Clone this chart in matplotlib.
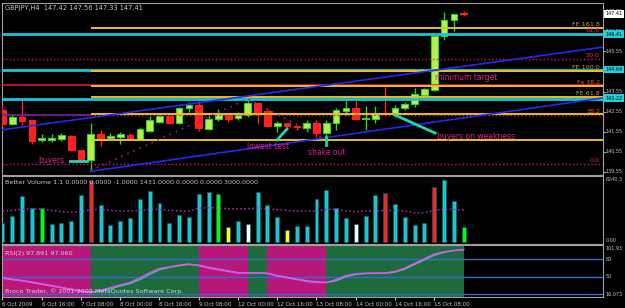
import matplotlib
matplotlib.use('Agg')
import matplotlib.pyplot as plt
import matplotlib.transforms as mtransforms
from matplotlib import font_manager

# ---- GBPJPY H4 candles ----
opens = [142.63, 141.93, 142.30, 142.13, 141.12, 141.14, 141.17, 141.34, 140.64, 140.14,
         141.42, 141.22, 141.27, 141.39, 141.17, 141.60, 142.05, 142.35, 141.97, 142.71,
         142.88, 141.67, 142.17, 142.38, 142.22, 142.38, 142.96, 142.60, 141.85, 141.97,
         141.85, 141.75, 142.00, 141.50, 141.97, 142.60, 142.74, 142.20, 142.17, 142.45,
         142.42, 142.71, 142.91, 143.38, 143.62, 146.31, 147.11, 147.42]
highs = [142.88, 142.43, 143.13, 142.15, 141.44, 141.44, 141.50, 141.39, 140.64, 141.97,
         141.63, 141.48, 141.53, 141.48, 141.80, 142.34, 142.40, 142.40, 142.79, 143.04,
         143.08, 142.38, 142.68, 142.42, 142.55, 143.18, 143.00, 142.68, 142.10, 142.00,
         141.87, 142.13, 142.13, 142.13, 142.74, 143.13, 143.13, 142.83, 142.83, 143.79,
         142.88, 143.04, 143.71, 143.74, 146.31, 147.49, 147.42, 147.56]
lows = [141.83, 141.88, 141.88, 140.94, 141.05, 141.05, 141.10, 140.60, 140.11, 139.60,
        140.85, 141.14, 140.94, 141.12, 141.14, 141.55, 142.00, 141.93, 141.93, 142.55,
        141.60, 141.63, 142.10, 142.05, 142.13, 142.27, 141.97, 141.80, 141.55, 141.80,
        141.63, 141.55, 141.30, 141.14, 141.63, 142.38, 142.13, 141.63, 142.00, 142.38,
        142.30, 142.63, 142.79, 143.36, 143.57, 146.11, 146.56, 147.33]
closes = [141.93, 142.27, 142.10, 141.10, 141.22, 141.22, 141.39, 140.64, 140.14, 141.44,
          141.14, 141.34, 141.44, 141.17, 141.67, 142.13, 142.33, 141.97, 142.71, 142.88,
          141.72, 142.17, 142.43, 142.17, 142.38, 142.96, 142.55, 141.85, 141.97, 141.85,
          141.77, 142.00, 141.50, 141.97, 142.63, 142.74, 142.17, 142.23, 142.42, 142.42,
          142.74, 142.91, 143.41, 143.66, 146.31, 147.11, 147.39, 147.41]

# ---- Better Volume ----
volumes = [1880, 2540, 4550, 3300, 3370, 1720, 1820, 2050, 4620, 6010,
           3630, 1650, 2050, 2380, 4220, 5050, 3800, 1880, 2640, 2440,
           4690, 4950, 4720, 1490, 2080, 1720, 4950, 3630, 2440, 1160,
           1580, 1550, 4220, 5120, 3300, 2310, 1720, 2570, 4620, 4850,
           3760, 2440, 1650, 1820, 5410, 6140, 4030, 1490]
vol_kind = ['c', 'c', 'c', 'c', 'g', 'c', 'c', 'c', 'c', 'r',
            'c', 'c', 'c', 'c', 'c', 'c', 'c', 'c', 'c', 'c',
            'c', 'c', 'g', 'y', 'c', 'w', 'c', 'c', 'c', 'y',
            'c', 'c', 'c', 'c', 'c', 'c', 'w', 'c', 'c', 'r',
            'c', 'c', 'c', 'c', 'r', 'c', 'c', 'g']
vol_avg = [3040, 3100, 3200, 3230, 3230, 3100, 2970, 2900, 2970, 3170,
           3200, 3100, 3040, 3040, 3100, 3200, 3200, 3100, 3040, 3040,
           3300, 3370, 3330, 3270, 3270, 3270, 3330, 3230, 3170, 3100,
           3040, 3040, 3040, 3200, 3200, 3040, 2970, 3040, 3040, 3100,
           3100, 3040, 2870, 2870, 3100, 3200, 3200, 3140]

# ---- RSI(2) ----
rsi_fast = [47.5, 45, 43, 40, 37, 34, 31, 28, 25, 22.4, 27, 31, 35.7, 40, 48, 57,
            64, 67, 70, 72, 69, 65, 62, 59, 56.5, 56.5, 57, 55.5, 51, 48, 45, 42,
            40, 40, 45, 52, 55, 56, 56, 56.5, 59, 65, 73, 81, 89, 93, 95, 97]
rsi_slow = [48, 45.5, 43.5, 40.5, 37.5, 34.5, 31.5, 28.5, 25.5, 23, 25, 29, 34, 38, 45, 54,
            62, 66, 69, 71, 70, 66, 63, 60, 57, 56.5, 56.5, 56, 52, 49, 46, 43,
            41, 40, 43, 50, 54, 55.5, 56, 56, 58, 63, 71, 79, 87, 92, 95, 96.5]
rsi_zone_edges = [0, 9, 20, 25, 27, 33, 47]
rsi_zone_kind = ['m', 'g', 'm', 'g', 'm', 'g']
rsi_levels = [80, 50, 20]

time_ticks = [0, 4, 8, 12, 16, 20, 24, 28, 32, 36, 40, 44]
time_labels = ['6 Oct 2009', '6 Oct 16:00', '7 Oct 08:00', '8 Oct 00:00', '8 Oct 16:00',
               '9 Oct 08:00', '12 Oct 00:00', '12 Oct 16:00', '13 Oct 08:00',
               '14 Oct 00:00', '14 Oct 16:00', '15 Oct 08:00']
price_ticks = [139.55, 140.55, 141.55, 142.55, 143.55, 144.55, 145.55, 146.55, 147.55]

# ---- drawn objects ----
retr_levels = [146.41, 145.17, 144.62, 143.89, 143.20, 142.36, 139.94]
retr_labels = ['61.8', '50.0', '', '', '', '38.2', '0.0']
fe_levels = [146.69, 144.57, 143.83, 143.28, 142.43, 141.14]
fe_labels = ['FE 161.8', 'FE 100.0', 'Fe 38.2', 'FE 61.8', '', '']
fe_start = 9
channel_upper = [(-0.25, 141.63), (61.2, 145.76)]
channel_lower = [(9, 139.58), (61.2, 143.23)]
fe_path = [(9, 139.62), (25, 143.18), (33, 141.14)]
arrows = [[(6.9, 140.11), (8.6, 140.11)],
          [(29.0, 141.69), (28.0, 141.14)],
          [(33.0, 141.30), (33.0, 140.90)],
          [(40.0, 142.38), (44.1, 141.48)]]
notes = [(3.6, 140.10, 'buyers'), (24.9, 140.79, 'lowest test'),
         (31.1, 140.54, 'shake out'), (44.3, 141.30, 'buyers on weakness'),
         (44.1, 144.24, 'minimum target')]
price_boxes = [(147.41, 'white'), (146.41, '#22d0dc'), (144.64, '#22d0dc'), (143.22, '#22d0dc')]

W, H = 625, 308
BG = 'black'
FRAME = '#a0a0a0'
TXT = '#c8c8c8'
CYAN = '#10c8d8'
YEL = '#e8c020'
NOTE = '#e0208a'

# narrow face for the cramped scales, if it is there
_names = {f.name for f in font_manager.fontManager.ttflist}
if 'Liberation Sans Narrow' in _names:
    SCALE_FONT = dict(family='Liberation Sans Narrow', size=4.6)
    TIME_FONT = dict(family='Liberation Sans Narrow', size=5.0)
else:
    SCALE_FONT = dict(family='DejaVu Sans', size=3.5)
    TIME_FONT = dict(family='DejaVu Sans', size=4.0)

fig = plt.figure(figsize=(W / 100, H / 100), dpi=100, facecolor=BG)


def px_axes(x0, y0, x1, y1):
    a = fig.add_axes([x0 / W, 1 - y1 / H, (x1 - x0) / W, (y1 - y0) / H])
    a.set_facecolor(BG)
    for s in a.spines.values():
        s.set_color(FRAME)
        s.set_linewidth(0.8)
    a.set_xlim(-0.05, 61.2)
    return a


def scale_text(a, v, s, **kw):
    tr = mtransforms.blended_transform_factory(a.transAxes, a.transData)
    opts = dict(fontsize=SCALE_FONT['size'], family=SCALE_FONT['family'], color=TXT,
                ha='left', va='center', transform=tr, clip_on=False)
    opts.update(kw)
    return a.text(1.004, v, s, **opts)


ax = px_axes(2, 3, 603, 175)
axv = px_axes(2, 176, 603, 244)
axr = px_axes(2, 245, 603, 297)
n = len(opens)
xs = list(range(n))

# ---- main panel ----
ax.set_ylim(139.396, 147.953)
for i in xs:
    o, h, l, c = opens[i], highs[i], lows[i], closes[i]
    up = c >= o
    wick = '#30d030' if up else '#ff2020'
    ax.vlines(i, l, h, color=wick, lw=1, zorder=3)
    ax.bar(i, max(abs(c - o), 0.03), 0.68, bottom=min(o, c),
           color='#b4f04c' if up else '#ff2020',
           edgecolor='#30d030' if up else '#ff2020', lw=0.8, zorder=4)

ylab = mtransforms.blended_transform_factory(ax.transAxes, ax.transData)
retr_style = [(CYAN, '-', 2.0), ('#e01040', ':', 1.0), (CYAN, '-', 2.0), ('#e0104a', '-', 1.2),
              (CYAN, '-', 2.0), ('#e02030', ':', 1.0), ('#d01880', ':', 1.0)]
retr_txt = ['#ff2060', '#ff2040', '', '', '', '#ff5020', '#e0208a']
for lev, lab, (col, ls, lw), tc in zip(retr_levels, retr_labels, retr_style, retr_txt):
    ax.axhline(lev, color=col, ls=ls, lw=lw, zorder=5)
    if lab:
        ax.text(0.995, lev + 0.05, lab, transform=ylab, ha='right', va='bottom',
                fontsize=4.6, color=tc, zorder=7)
ax.hlines(142.38, -0.05, fe_start, color='#7020a0', lw=1.2, zorder=5)
fe_txt = ['#c8a838', '#c8a838', '#e06030', '#c8a838', '', '']
for lev, lab, tc in zip(fe_levels, fe_labels, fe_txt):
    ax.hlines(lev, fe_start, 61.2, color=YEL, lw=1.4, zorder=5)
    if lab:
        ax.text(0.995, lev + 0.05, lab, transform=ylab, ha='right', va='bottom',
                fontsize=4.6, color=tc, zorder=7)

for line in (channel_upper, channel_lower):
    ax.plot([p[0] for p in line], [p[1] for p in line], color='#2828f0', lw=1.2, zorder=5)
ax.plot([p[0] for p in fe_path], [p[1] for p in fe_path], color='#b01880', ls=(0, (1, 3)),
        lw=1.2, zorder=5)
for seg in arrows:
    ax.plot([p[0] for p in seg], [p[1] for p in seg], color='#20d8b0', lw=2, zorder=6)
for x, y, t in notes:
    ax.text(x, y, t, fontsize=5.5, color=NOTE, ha='left', va='center', zorder=7)

ax.set_xticks([])
ax.yaxis.tick_right()
ax.set_yticks(price_ticks)
ax.set_yticklabels([])
ax.tick_params(axis='y', colors=FRAME, length=2)
for t in price_ticks:
    scale_text(ax, t, '%.2f' % t, zorder=6)
for v, fc in price_boxes:
    # the price boxes sit on top of the scale, as in the terminal
    scale_text(ax, v, '%.2f' % v, color='black', zorder=8,
               bbox=dict(boxstyle='square,pad=0.25', fc=fc, ec='none'))

# ---- volume panel ----
vol_colors = {'c': '#22c4cc', 'g': '#00ff00', 'r': '#ff2020', 'y': '#ffff00', 'w': '#ffffff'}
axv.set_ylim(-228, 6504)
axv.bar(xs, volumes, 0.4, color=[vol_colors[k] for k in vol_kind],
        edgecolor='#0a6070', lw=0.5, zorder=3)
axv.plot(xs, vol_avg, color='#b030c8', ls=':', lw=1.1, zorder=4)
axv.set_xticks([])
axv.set_yticks([])
scale_text(axv, 6150, '6240.3')
scale_text(axv, 150, '0.00')

# ---- RSI panel ----
axr.set_ylim(15, 104.7)
zone_colors = {'m': '#b8177a', 'g': '#1d6b3c'}
for k, (a, b) in enumerate(zip(rsi_zone_edges[:-1], rsi_zone_edges[1:])):
    a = -0.05 if k == 0 else a
    axr.axvspan(a, b, color=zone_colors[rsi_zone_kind[k]], lw=0, zorder=1)
for lev in rsi_levels:
    axr.axhline(lev, color='#3a66d0', lw=1, zorder=2)
axr.plot(xs, rsi_slow, color='#30c8a0', lw=1, zorder=3)
axr.plot(xs, rsi_fast, color='#ff40ff', lw=1, zorder=4)
axr.set_yticks([])
scale_text(axr, 99.5, '101.93')
scale_text(axr, 80, '80')
scale_text(axr, 50, '50')
scale_text(axr, 19, '16.073')
axr.set_xticks(time_ticks)
axr.set_xticklabels(time_labels)
axr.tick_params(axis='x', colors=TXT, length=2, pad=1.5)
for lbl in axr.get_xticklabels():
    lbl.set_ha('left')
    lbl.set_family(TIME_FONT['family'])
    lbl.set_fontsize(TIME_FONT['size'])

# ---- captions ----
fig.text(5 / W, 1 - 8 / H, 'GBPJPY,H4  147.42 147.56 147.33 147.41', fontsize=4.8,
         color=TXT, va='center')
fig.text(5 / W, 1 - 182 / H,
         'Better Volume 1.1 0.0000 0.0000 -1.0000 1431.0000 0.0000 0.0000 3000.0000',
         fontsize=4.6, color=TXT, va='center')
fig.text(5 / W, 1 - 253 / H, 'RSI(2) 97.891 97.060', fontsize=4.6, color='#e8c8d0', va='center')
fig.text(5 / W, 1 - 291 / H, 'Broco Trader, \u00a9 2001-2009 MetaQuotes Software Corp.',
         fontsize=4.6, color='#d8d8d8', va='center')

fig.savefig('out.png', dpi=100, facecolor=BG)
